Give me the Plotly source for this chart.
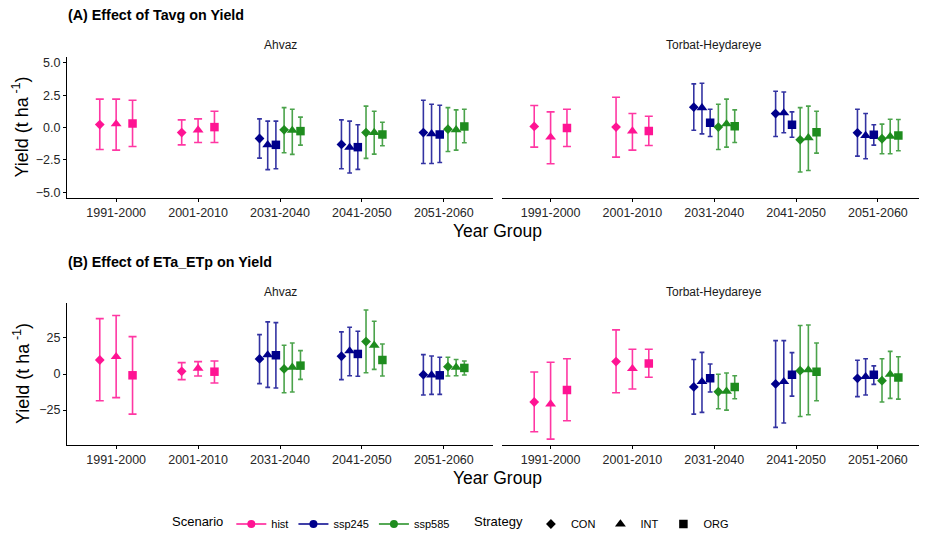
import plotly.graph_objects as go

# ---------------- data ----------------
YEAR_GROUPS = ["1991-2000", "2001-2010", "2031-2040", "2041-2050", "2051-2060"]
HIST_YEARS = ["1991-2000", "2001-2010"]
FUTURE_YEARS = ["2031-2040", "2041-2050", "2051-2060"]
SCENARIOS = ["hist", "ssp245", "ssp585"]
STRATEGIES = ["CON", "INT", "ORG"]
SITES = ["Ahvaz", "Torbat-Heydareye"]

# rows = strategies (CON, INT, ORG); columns = year groups of the scenario
# (A) Tavg - Ahvaz
TA_AHV_HIST_MEAN = [[0.23, -0.39], [0.28, -0.20], [0.31, 0.03]]
TA_AHV_HIST_LO = [[-1.70, -1.34], [-1.75, -1.16], [-1.47, -1.16]]
TA_AHV_HIST_HI = [[2.19, 0.59], [2.19, 0.67], [2.11, 1.26]]
TA_AHV_245_MEAN = [[-0.85, -1.31, -0.39], [-1.34, -1.54, -0.49], [-1.34, -1.52, -0.54]]
TA_AHV_245_LO = [[-2.37, -3.19, -2.78], [-3.26, -3.52, -2.78], [-3.19, -3.24, -2.70]]
TA_AHV_245_HI = [[0.67, 0.59, 2.11], [0.49, 0.49, 1.80], [0.49, 0.21, 1.72]]
TA_AHV_585_MEAN = [[-0.18, -0.39, -0.13], [-0.23, -0.39, -0.18], [-0.28, -0.54, 0.08]]
TA_AHV_585_LO = [[-1.95, -2.39, -1.85], [-2.08, -2.06, -1.75], [-1.36, -1.41, -1.18]]
TA_AHV_585_HI = [[1.54, 1.65, 1.54], [1.41, 1.26, 1.36], [0.80, 0.41, 1.41]]

# (A) Tavg - Torbat-Heydareye
TA_TOR_HIST_MEAN = [[0.08, 0.03], [-0.75, -0.28], [-0.03, -0.28]]
TA_TOR_HIST_LO = [[-1.52, -2.29], [-2.80, -1.75], [-1.47, -1.39]]
TA_TOR_HIST_HI = [[1.70, 2.34], [1.21, 1.08], [1.41, 0.87]]
TA_TOR_245_MEAN = [[1.57, 1.08, -0.41], [1.52, 1.13, -0.62], [0.36, 0.21, -0.57]]
TA_TOR_245_LO = [[-0.21, -0.69, -2.21], [-0.49, -0.41, -2.42], [-0.69, -0.75, -1.36]]
TA_TOR_245_HI = [[3.37, 2.80, 1.41], [3.42, 2.75, 1.08], [1.41, 1.21, 0.21]]
TA_TOR_585_MEAN = [[0.03, -0.95, -0.87], [0.28, -0.80, -0.69], [0.10, -0.36, -0.62]]
TA_TOR_585_LO = [[-1.70, -3.44, -2.03], [-1.52, -3.32, -2.03], [-1.16, -1.98, -1.80]]
TA_TOR_585_HI = [[1.80, 1.54, 0.26], [2.19, 1.65, 0.64], [1.36, 1.26, 0.62]]

# (B) ETa_ETp - Ahvaz
ET_AHV_HIST_MEAN = [[9.7, 1.85], [12.0, 3.9], [-0.9, 1.6]]
ET_AHV_HIST_LO = [[-18.5, -3.9], [-16.4, -1.4], [-27.8, -6.25]]
ET_AHV_HIST_HI = [[38.4, 7.9], [40.5, 8.6], [25.9, 9.0]]
ET_AHV_245_MEAN = [[10.4, 12.3, -0.5], [13.2, 16.0, -0.7], [13.0, 13.9, -0.9]]
ET_AHV_245_LO = [[-6.7, -3.9, -14.6], [-9.3, -1.2, -14.1], [-9.7, -1.6, -14.1]]
ET_AHV_245_HI = [[27.3, 29.2, 13.4], [36.1, 32.4, 12.5], [35.6, 29.6, 11.6]]
ET_AHV_585_MEAN = [[3.5, 22.5, 5.1], [4.6, 19.9, 4.6], [5.8, 9.7, 4.2]]
ET_AHV_585_LO = [[-13.0, 0.9, -1.4], [-12.5, 3.2, -1.2], [-3.7, -1.4, -0.7]]
ET_AHV_585_HI = [[19.9, 44.4, 11.6], [21.5, 36.6, 10.0], [16.2, 20.8, 9.0]]

# (B) ETa_ETp - Torbat-Heydareye
ET_TOR_HIST_MEAN = [[-19.4, 8.6], [-20.8, 3.7], [-11.1, 7.2]]
ET_TOR_HIST_LO = [[-40.0, -13.0], [-45.1, -10.4], [-32.4, -2.3]]
ET_TOR_HIST_HI = [[1.4, 30.6], [8.1, 17.1], [10.6, 17.1]]
ET_TOR_245_MEAN = [[-9.0, -6.9, -3.0], [-5.3, -5.3, -1.9], [-3.0, -0.5, -0.5]]
ET_TOR_245_LO = [[-27.8, -37.0, -15.7], [-26.6, -34.0, -14.6], [-12.5, -15.3, -7.2]]
ET_TOR_245_HI = [[10.0, 23.1, 9.5], [15.0, 23.1, 10.6], [6.9, 14.8, 5.6]]
ET_TOR_585_MEAN = [[-12.3, 2.3, -4.6], [-12.0, 2.8, -0.2], [-9.0, 1.6, -2.5]]
ET_TOR_585_LO = [[-24.1, -29.4, -19.4], [-25.0, -28.2, -16.9], [-17.1, -18.5, -17.4]]
ET_TOR_585_HI = [[-0.2, 33.6, 10.6], [0.7, 34.0, 15.7], [-1.2, 21.5, 12.0]]

TITLES = ["(A) Effect of Tavg on Yield", "(B) Effect of ETa_ETp on Yield"]
TA_TICKS = [-5.0, -2.5, 0.0, 2.5, 5.0]
ET_TICKS = [-25, 0, 25]

# ---------------- style ----------------
# the page body has an 8px default margin, so the figure is 8px smaller
OFF = 8
W, H = 927 - OFF, 533 - OFF
FONT = "Liberation Sans, Arial, sans-serif"
SC_COLORS = {"hist": "#FF1493", "ssp245": "#00008B", "ssp585": "#1E8C1E"}
SC_ERR = {"hist": "rgba(255,20,147,0.85)", "ssp245": "rgba(0,0,139,0.8)",
          "ssp585": "rgba(30,140,30,0.8)"}
SYMBOLS = {"CON": "diamond", "INT": "triangle-up", "ORG": "square"}
SIZES = {"CON": 7.5, "INT": 9.5, "ORG": 8.5}
DODGE = 0.6


def px_x(p):
    return (p - OFF) / W


def px_y(p):
    return 1 - (p - OFF) / H


panels = [
    ("x", "y", {"hist": (TA_AHV_HIST_MEAN, TA_AHV_HIST_LO, TA_AHV_HIST_HI),
                "ssp245": (TA_AHV_245_MEAN, TA_AHV_245_LO, TA_AHV_245_HI),
                "ssp585": (TA_AHV_585_MEAN, TA_AHV_585_LO, TA_AHV_585_HI)}),
    ("x2", "y2", {"hist": (TA_TOR_HIST_MEAN, TA_TOR_HIST_LO, TA_TOR_HIST_HI),
                  "ssp245": (TA_TOR_245_MEAN, TA_TOR_245_LO, TA_TOR_245_HI),
                  "ssp585": (TA_TOR_585_MEAN, TA_TOR_585_LO, TA_TOR_585_HI)}),
    ("x3", "y3", {"hist": (ET_AHV_HIST_MEAN, ET_AHV_HIST_LO, ET_AHV_HIST_HI),
                  "ssp245": (ET_AHV_245_MEAN, ET_AHV_245_LO, ET_AHV_245_HI),
                  "ssp585": (ET_AHV_585_MEAN, ET_AHV_585_LO, ET_AHV_585_HI)}),
    ("x4", "y4", {"hist": (ET_TOR_HIST_MEAN, ET_TOR_HIST_LO, ET_TOR_HIST_HI),
                  "ssp245": (ET_TOR_245_MEAN, ET_TOR_245_LO, ET_TOR_245_HI),
                  "ssp585": (ET_TOR_585_MEAN, ET_TOR_585_LO, ET_TOR_585_HI)}),
]

fig = go.Figure()

for xa, ya, data in panels:
    for sc in SCENARIOS:
        years = HIST_YEARS if sc == "hist" else FUTURE_YEARS
        scen_in_group = ["hist"] if sc == "hist" else ["ssp245", "ssp585"]
        n = len(scen_in_group) * len(STRATEGIES)
        mean, lo, hi = data[sc]
        for ki, st in enumerate(STRATEGIES):
            j = scen_in_group.index(sc) * len(STRATEGIES) + ki
            off = -DODGE / 2 + DODGE * (j + 0.5) / n
            xs = [YEAR_GROUPS.index(yg) + 1 + off for yg in years]
            ys = mean[ki]
            fig.add_trace(go.Scatter(
                x=xs, y=ys, xaxis=xa, yaxis=ya, mode="markers",
                marker=dict(symbol=SYMBOLS[st], size=SIZES[st], color=SC_COLORS[sc],
                            line=dict(width=0)),
                error_y=dict(type="data", symmetric=False,
                             array=[h - m for h, m in zip(hi[ki], ys)],
                             arrayminus=[m - l for m, l in zip(ys, lo[ki])],
                             color=SC_ERR[sc], thickness=1.6,
                             width=4 if sc == "hist" else 2.4),
                showlegend=False, hoverinfo="skip"))

# legend entries
for sc in SCENARIOS:
    fig.add_trace(go.Scatter(x=[None], y=[None], mode="lines+markers", name=sc,
                             marker=dict(symbol="circle", size=8, color=SC_COLORS[sc]),
                             line=dict(color=SC_COLORS[sc], width=1.6),
                             legend="legend"))
for st in STRATEGIES:
    fig.add_trace(go.Scatter(x=[None], y=[None], mode="markers", name=st,
                             marker=dict(symbol=SYMBOLS[st], size=SIZES[st], color="black"),
                             legend="legend2"))

TICKFONT = dict(family=FONT, size=12.5, color="#262626")
x_left = [px_x(67), px_x(493)]
x_right = [px_x(501.5), 1.0]
y_top = [px_y(198), px_y(57)]
y_bot = [px_y(445), px_y(303)]

common_x = dict(range=[0.4, 5.6], tickmode="array", tickvals=[1, 2, 3, 4, 5],
                ticktext=YEAR_GROUPS, showline=True, linecolor="black", linewidth=1,
                ticks="outside", ticklen=3, tickcolor="black", tickwidth=1,
                showgrid=False, zeroline=False, tickfont=TICKFONT, fixedrange=True)
common_y = dict(showline=True, linecolor="black", linewidth=1, ticks="outside",
                ticklen=3, tickcolor="black", tickwidth=1, showgrid=False,
                zeroline=False, tickfont=TICKFONT, fixedrange=True)
right_y = dict(showline=False, ticks="", showticklabels=False, showgrid=False,
               zeroline=False, fixedrange=True)

LEG_FONT = dict(size=11, family=FONT, color="black")
LEG_TITLE_FONT = dict(size=13, family=FONT, color="black")

fig.update_layout(
    width=W, height=H, margin=dict(l=0, r=0, t=0, b=0, autoexpand=False),
    paper_bgcolor="white", plot_bgcolor="white",
    font=dict(family=FONT, color="black"),
    xaxis=dict(domain=x_left, anchor="y", **common_x),
    xaxis2=dict(domain=x_right, anchor="y2", **common_x),
    xaxis3=dict(domain=x_left, anchor="y3", **common_x),
    xaxis4=dict(domain=x_right, anchor="y4", **common_x),
    yaxis=dict(domain=y_top, anchor="x", range=[-5.45, 5.45], tickvals=TA_TICKS,
               tickformat=".1f", **common_y),
    yaxis2=dict(domain=y_top, anchor="x2", range=[-5.45, 5.45], **right_y),
    yaxis3=dict(domain=y_bot, anchor="x3", range=[-49.2, 49.2], tickvals=ET_TICKS,
                **common_y),
    yaxis4=dict(domain=y_bot, anchor="x4", range=[-49.2, 49.2], **right_y),
    legend=dict(orientation="h", x=px_x(170), y=px_y(524), xanchor="left",
                yanchor="middle", title=dict(text="Scenario", side="left",
                                             font=LEG_TITLE_FONT),
                font=LEG_FONT, bgcolor="rgba(0,0,0,0)",
                itemclick=False, itemdoubleclick=False),
    legend2=dict(orientation="h", x=px_x(472), y=px_y(524), xanchor="left",
                 yanchor="middle", title=dict(text="Strategy", side="left",
                                              font=LEG_TITLE_FONT),
                 font=LEG_FONT, bgcolor="rgba(0,0,0,0)",
                 itemclick=False, itemdoubleclick=False),
)

ann = []
for title, ty in zip(TITLES, [15, 262]):
    ann.append(dict(text="<b>" + title + "</b>", x=px_x(66), y=px_y(ty), xref="paper",
                    yref="paper", xanchor="left", yanchor="middle", showarrow=False,
                    font=dict(size=14.3, family=FONT, color="black")))
for sy in [45, 292]:
    for site, cx in zip(SITES, [280, 714]):
        ann.append(dict(text=site, x=px_x(cx), y=px_y(sy), xref="paper", yref="paper",
                        xanchor="center", yanchor="middle", showarrow=False,
                        font=dict(size=12, family=FONT, color="#1a1a1a")))
for ty in [231, 478]:
    ann.append(dict(text="Year Group", x=px_x(497), y=px_y(ty), xref="paper",
                    yref="paper", xanchor="center", yanchor="middle", showarrow=False,
                    font=dict(size=17.5, family=FONT, color="black")))
for cy in [127.5, 374]:
    ann.append(dict(text="Yield (t ha<sup> -1</sup>)", x=px_x(21), y=px_y(cy),
                    xref="paper", yref="paper", xanchor="center", yanchor="middle",
                    textangle=-90, showarrow=False,
                    font=dict(size=18, family=FONT, color="black")))
fig.update_layout(annotations=ann)

fig.write_html("out.html")
